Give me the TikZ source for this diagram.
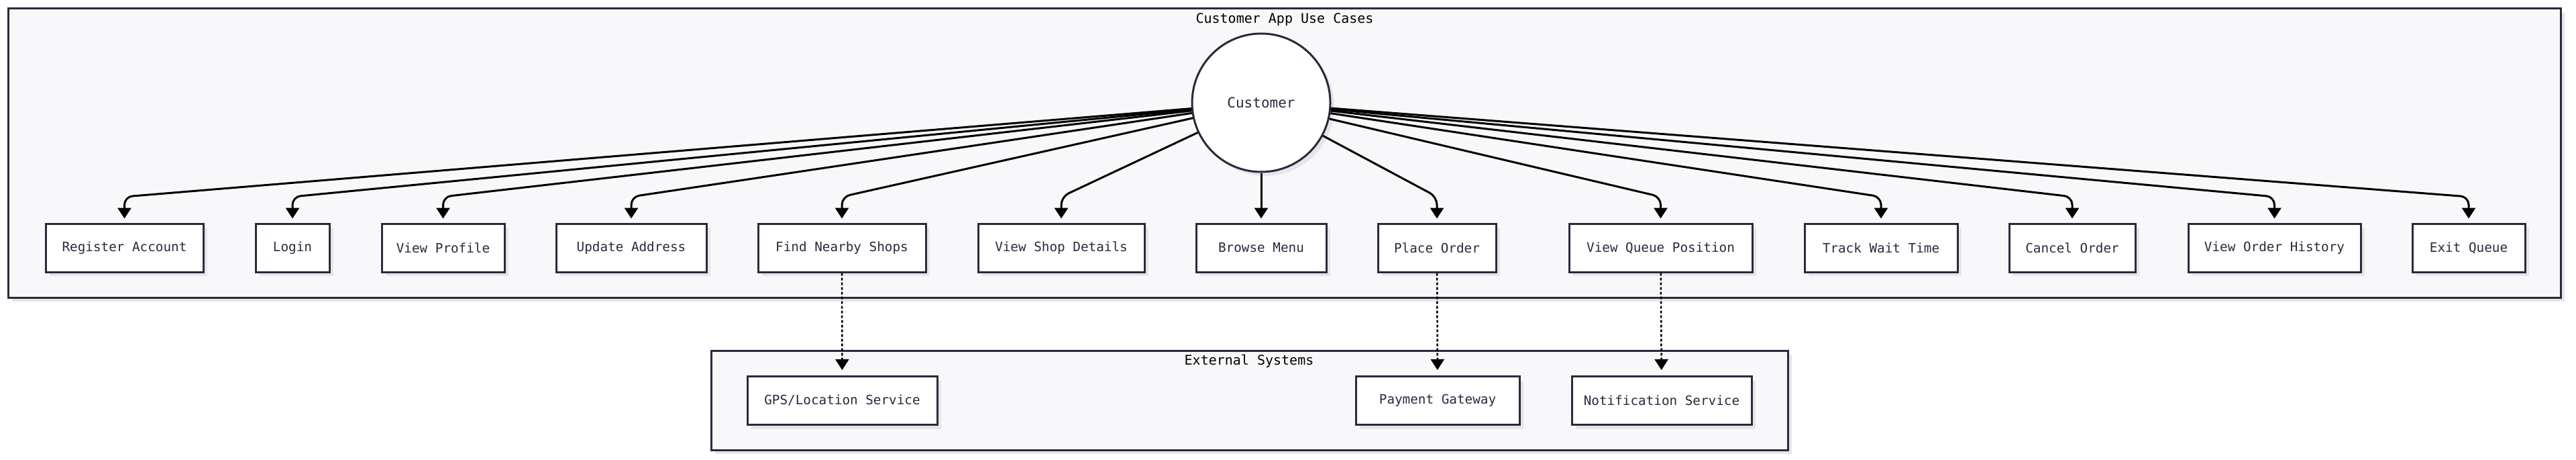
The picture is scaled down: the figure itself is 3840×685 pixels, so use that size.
\documentclass[tikz,border=0pt]{standalone}
\usepackage{fontspec}
\newfontfamily\dmono{DejaVu Sans Mono}
\usetikzlibrary{arrows.meta,shadows,calc}
\definecolor{bord}{HTML}{2A2A3E}
\definecolor{clfill}{HTML}{F8F8FA}
\definecolor{shad}{HTML}{E6E6EA}
\definecolor{txt}{HTML}{2A2A3E}
\tikzset{
  myshadow/.style={drop shadow={shadow xshift=6pt, shadow yshift=-6pt, fill=shad, opacity=1}},
  cluster/.style={draw=bord, line width=3pt, fill=clfill, myshadow},
  cltitle/.style={text=black, font=\dmono\fontsize{20}{24}\selectfont, inner sep=0pt},
  uc/.style={draw=bord, line width=3pt, fill=white, minimum height=72pt, inner sep=0pt,
    text=txt, font=\dmono\fontsize{19.3}{23}\selectfont, myshadow},
  actor/.style={circle, draw=bord, line width=3pt, fill=white, minimum size=206pt, inner sep=0pt,
    text=txt, font=\dmono\fontsize{21}{25}\selectfont, myshadow},
  edge/.style={draw=black, line width=3pt, rounded corners=12pt,
    -{Triangle[width=20pt,length=16pt]}, shorten >=6pt},
  depedge/.style={draw=black, line width=2.5pt, dash pattern=on 4pt off 3pt,
    -{Triangle[width=20pt,length=16pt]}, shorten >=8pt}
}
\begin{document}
\begin{tikzpicture}[x=1pt,y=-1pt]
\useasboundingbox[fill=white] (0,0) rectangle (3840,685);
% clusters
\path[cluster] (12,13) rectangle (3817,443);
\node[cltitle] (t1) at (1915,29) {Customer App Use Cases};
\path[cluster] (1060,522) rectangle (2665,670);
\node[cltitle] (t2) at (1862,538) {External Systems};
% actor
\node[actor] (cust) at (1880,153) {Customer};
% use cases
\node[uc, minimum width=235pt] (reg)    at (185.5,369) {Register Account};
\node[uc, minimum width=110pt] (login)  at (436,369)   {Login};
\node[uc, minimum width=183pt] (prof)   at (660.5,369) {View Profile};
\node[uc, minimum width=224pt] (addr)   at (941,369)   {Update Address};
\node[uc, minimum width=250pt] (find)   at (1255,369)  {Find Nearby Shops};
\node[uc, minimum width=248pt] (shop)   at (1582,369)  {View Shop Details};
\node[uc, minimum width=194pt] (menu)   at (1880,369)  {Browse Menu};
\node[uc, minimum width=176pt] (place)  at (2142,369)  {Place Order};
\node[uc, minimum width=273pt] (queue)  at (2475.5,369){View Queue Position};
\node[uc, minimum width=228pt] (wait)   at (2804,369)  {Track Wait Time};
\node[uc, minimum width=188pt] (cancel) at (3089,369)  {Cancel Order};
\node[uc, minimum width=257pt] (hist)   at (3390.5,369){View Order History};
\node[uc, minimum width=168pt] (exitq)  at (3680,369)  {Exit Queue};
% external
\node[uc, minimum width=283pt] (gps)    at (1255.5,596.5) {GPS/Location Service};
\node[uc, minimum width=244pt] (pay)    at (2143,596.5)   {Payment Gateway};
\node[uc, minimum width=268pt] (notif)  at (2477,596.5)   {Notification Service};
% edges
\coordinate (lvl) at (0,293);
\foreach \n in {reg,login,prof,addr,find,shop,place,queue,wait,cancel,hist,exitq}{
  \draw[edge] (cust) -- (\n.north |- lvl) -- (\n.north);
}
\draw[edge] (cust) -- (menu);
\draw[depedge] (find) -- (gps);
\draw[depedge] (place) -- (pay);
\draw[depedge] (queue) -- (notif);
\end{tikzpicture}
\end{document}
